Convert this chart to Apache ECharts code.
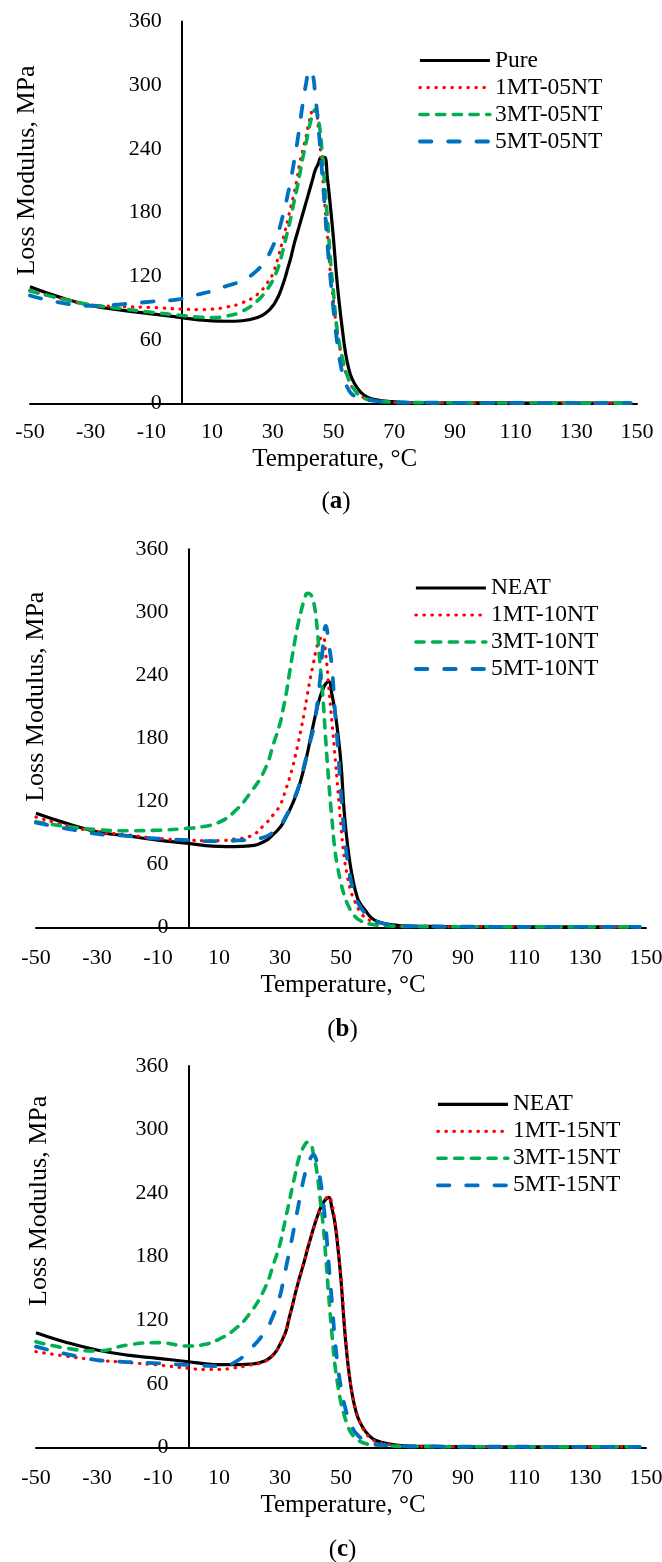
<!DOCTYPE html>
<html>
<head>
<meta charset="utf-8">
<script src="https://cdn.jsdelivr.net/npm/echarts@6/dist/echarts.min.js"></script>
<style>
html,body{margin:0;padding:0;background:#fff;}
#chart{width:662px;height:1562px;}
</style>
</head>
<body>
<div id="chart"></div>
<script>
// ---- data ----
const TEMPS = [-50,-40,-30,-20,-10,0,5,10,15,20,
  25,28,30,31,32,33,34,35,36,37,38,39,40,
  41,42,43,44,45,46,47,48,49,50,
  51,52,53,54,55,56,58,60,62,65,
  68,72,80,90,100,110,120,130,140,148];

const X_TICKS = [-50,-30,-10,10,30,50,70,90,110,130,150];
const Y_TICKS = [0,60,120,180,240,300,360];

const NAMES_A = ['Pure','1MT-05NT','3MT-05NT','5MT-05NT'];
const NAMES_B = ['NEAT','1MT-10NT','3MT-10NT','5MT-10NT'];
const NAMES_C = ['NEAT','1MT-15NT','3MT-15NT','5MT-15NT'];

const A_PURE = [110,100,92.4,88,84.5,81,79,77.8,77.5,78,
  81,86,92,96.5,102,109.5,118,128,138,150,160,170,180,
  190,200,210,220,226,232,232,212,185,155,
  120,92,68,47,33,24,14,8,5,3,
  2,1.2,0.8,0.6,0.5,0.5,0.4,0.4,0.4,0.4];
const A_1MT = [106.5,99,93,91.5,90.5,89,88.5,89,91,95,
  103,113,122,130.5,140,151,162,174,186,198,212,228,240,
  252,266,276,278,260,228,192,158,122,96,
  72,54,40,29,22,16,9,5.5,3.5,2,
  1.5,1,0.8,0.6,0.5,0.5,0.4,0.4,0.4,0.4];
const A_3MT = [106,99,93,89.5,86,83,81.5,81,82.5,87,
  97,107,116,122.5,130,140.5,152,164,176,190,203,218,233,
  246,260,271,277,268,245,210,174,135,104,
  74,55,42,31,23,17,9,5,3.5,2,
  1.5,1,0.8,0.6,0.5,0.5,0.4,0.4,0.4,0.4];
const A_5MT = [101.8,95,92,93.5,96,98.6,102.5,106,111,116,
  126,137,148,155,163,173.5,185,198,212,228,245,265,285,
  302,314,312,290,262,226,190,150,118,88,
  62,42,28,19,13,9,5.5,4,3,2,
  1.5,1,0.8,0.6,0.5,0.5,0.4,0.4,0.4,0.4];

const B_NEAT = [108.6,99,91,87,83,80,78,77,76.8,77.5,
  82,89,95,99.5,105,110.5,117,124,132,142,153,166,180,
  194,207,218,226,232,234,222,206,184,156,
  112,82,60,44,32,24,16,9,5.5,3,
  2,1.2,0.8,0.6,0.5,0.5,0.4,0.4,0.4,0.4];
const B_1MT = [105,97,91,88,84.5,83,82.5,82.5,84,86.5,
  98,108,116,123.5,132,141,151,163,176,190,205,222,238,
  252,266,274,277,260,228,196,164,130,96,
  68,50,37,28,22,16,9,6,4,2.5,
  1.5,1,0.8,0.6,0.5,0.5,0.4,0.4,0.4,0.4];
const B_3MT = [100.6,96,93,92,92.5,94.3,96,100,110,127,
  150,176,194,207.5,222,240,258,275,290,302,312,318,317,
  310,290,255,222,178,138,104,74,56,42,
  31,23,17,12.5,9,7,4,3,2,1.5,
  1,0.8,0.6,0.5,0.5,0.4,0.4,0.4,0.4,0.4];
const B_5MT = [99.6,94,89,87,84.5,83,82,82,82.5,83.5,
  86,91,96,100.5,106,111.5,118,125,133,143,155,166,178,
  190,208,232,265,287,270,248,207,170,128,
  92,66,48,36,27,21,13,8,5,3,
  2,1.2,0.8,0.6,0.5,0.5,0.4,0.4,0.4,0.4];

const C_NEAT = [108.2,99,91.9,87,84,80.8,79,78,78,78.5,
  81.5,88,97,103,110,122,133,145,156,166,176,187,197,
  207,216,224,230,234,236,226,212,188,158,
  118,86,62,45,33,25,15,9,6,3.5,
  2,1.2,0.8,0.6,0.5,0.5,0.4,0.4,0.4,0.4];
const C_1MT = [90.3,86,82.4,80,77.7,74.6,73.5,73.5,75,77.5,
  81,88,97.5,103.5,111,122,133,145,156,166,176,187,197,
  207,216,224,231,235,237,230,214,190,160,
  122,88,63,46,34,25,14,8,5,3,
  2,1.2,0.8,0.6,0.5,0.5,0.4,0.4,0.4,0.4];
const C_3MT = [99.7,93.5,91,96.6,98.8,95.6,97,102,111,126,
  150,174,192,205,218,231.5,245,258,271,279,285,288,287,
  276,262,238,214,180,142,108,78,58,42,
  31,22,15,11,8,6,3.5,2.5,2,1.5,
  1,0.8,0.6,0.5,0.5,0.4,0.4,0.4,0.4,0.4];
const C_5MT = [95,88,82.4,80.5,79.3,77.7,77,76.6,80,92,
  109,126,143,156,170,184,198,213,228,243,256,266,273,
  276,270,256,236,208,172,138,102,76,56,
  42,31,23,17,13,10,6,4,3,2,
  1.5,1,0.8,0.6,0.5,0.5,0.4,0.4,0.4,0.4];

const PANEL_LABELS = ['a','b','c'];
const X_TITLE = 'Temperature, \u00B0C';
const Y_TITLE = 'Loss Modulus, MPa';

// ---- styling / layout ----
const FONT = 'Liberation Serif';
const STYLES = [
  {color:'#000000', width:3.2, type:'solid',      cap:'butt'},
  {color:'#FF0000', width:3.2, type:[0.5,7.5],    cap:'round'},
  {color:'#00B050', width:3.6, type:[8.2,8.5],    cap:'round'},
  {color:'#0070C0', width:3.8, type:[11.5,16.8],  cap:'round'}
];
const LAYOUT = [
  {grid:{left:30, top:21.5, width:607, height:382}, legend:{left:418, top:48.5}, xMargin:18,
   xt:[334.7,459], yt:[27.5,170.5], pl:[336,502]},
  {grid:{left:36, top:549.3, width:610, height:378}, legend:{left:414, top:576}, xMargin:20,
   xt:[343,985], yt:[36.5,696.7], pl:[342.5,1030]},
  {grid:{left:36, top:1066, width:610, height:381.3}, legend:{left:436, top:1092.3}, xMargin:20,
   xt:[343,1505], yt:[39,1200.8], pl:[342.5,1550]}
];

const PANELS = [
  {names:NAMES_A, values:[A_PURE,A_1MT,A_3MT,A_5MT]},
  {names:NAMES_B, values:[B_NEAT,B_1MT,B_3MT,B_5MT]},
  {names:NAMES_C, values:[C_NEAT,C_1MT,C_3MT,C_5MT]}
];

const xMin = X_TICKS[0], xMax = X_TICKS[X_TICKS.length-1];
const grids=[], xAxes=[], yAxes=[], legends=[], series=[], graphics=[];
PANELS.forEach((p,pi)=>{
  const L = LAYOUT[pi];
  grids.push(Object.assign({outerBoundsMode:'none', containLabel:false}, L.grid));
  xAxes.push({
    type:'value', gridIndex:pi, min:xMin, max:xMax,
    interval:X_TICKS[1]-X_TICKS[0],
    axisLine:{show:true, onZero:false, lineStyle:{color:'#000', width:2}},
    axisTick:{show:false}, splitLine:{show:false},
    axisLabel:{fontFamily:FONT, fontSize:22, color:'#000', margin:L.xMargin,
      showMinLabel:true, showMaxLabel:true}
  });
  // the vertical axis crosses the horizontal one at 0 °C (Excel style)
  const zeroOffset = -L.grid.width * (0 - xMin) / (xMax - xMin);
  yAxes.push({
    type:'value', gridIndex:pi, min:Y_TICKS[0], max:Y_TICKS[Y_TICKS.length-1],
    interval:Y_TICKS[1]-Y_TICKS[0], position:'left', offset:zeroOffset,
    axisLine:{show:true, onZero:false, lineStyle:{color:'#000', width:2}},
    axisTick:{show:false}, splitLine:{show:false},
    axisLabel:{fontFamily:FONT, fontSize:22, color:'#000', margin:20}
  });
  legends.push({
    orient:'vertical', left:L.legend.left, top:L.legend.top, padding:0,
    itemWidth:70, itemHeight:14, itemGap:3,
    data:p.names.map((n,si)=>({name:n,
      lineStyle:{width:STYLES[si].width, type:STYLES[si].type, cap:STYLES[si].cap, color:STYLES[si].color}})),
    selectedMode:false,
    itemStyle:{opacity:0},
    lineStyle:{width:'inherit'},
    textStyle:{fontFamily:FONT, fontSize:23.5, color:'#000'}
  });
  p.names.forEach((n,si)=>{
    const s = STYLES[si];
    series.push({
      type:'line', name:n, xAxisIndex:pi, yAxisIndex:pi,
      data:TEMPS.map((t,i)=>[t,p.values[si][i]]),
      showSymbol:false, symbol:'none', smooth:0.5,
      lineStyle:{color:s.color, width:s.width, type:s.type, cap:s.cap, join:'round'},
      itemStyle:{color:s.color},
      emphasis:{disabled:true}, silent:true, z:2+si
    });
  });
  graphics.push({
    type:'text', x:L.xt[0], y:L.xt[1],
    style:{text:X_TITLE, fontFamily:FONT, fontSize:25, fill:'#000', textAlign:'center', textVerticalAlign:'middle'}
  });
  graphics.push({
    type:'text', x:L.yt[0], y:L.yt[1], rotation:Math.PI/2,
    style:{text:Y_TITLE, fontFamily:FONT, fontSize:26, fill:'#000', textAlign:'center', textVerticalAlign:'middle'}
  });
  graphics.push({
    type:'text', x:L.pl[0], y:L.pl[1],
    style:{text:'{n|(}{b|'+PANEL_LABELS[pi]+'}{n|)}', textAlign:'center', textVerticalAlign:'middle',
      fontFamily:FONT, fontSize:25, fill:'#000',
      rich:{n:{fontFamily:FONT, fontSize:25, color:'#000'}, b:{fontFamily:FONT, fontSize:25, fontWeight:'bold', color:'#000'}}}
  });
});

const chart = echarts.init(document.getElementById('chart'), null, {renderer:'canvas'});
chart.setOption({
  animation:false,
  backgroundColor:'#ffffff',
  grid:grids, xAxis:xAxes, yAxis:yAxes, legend:legends, series:series,
  graphic:graphics
});
</script>
</body>
</html>
